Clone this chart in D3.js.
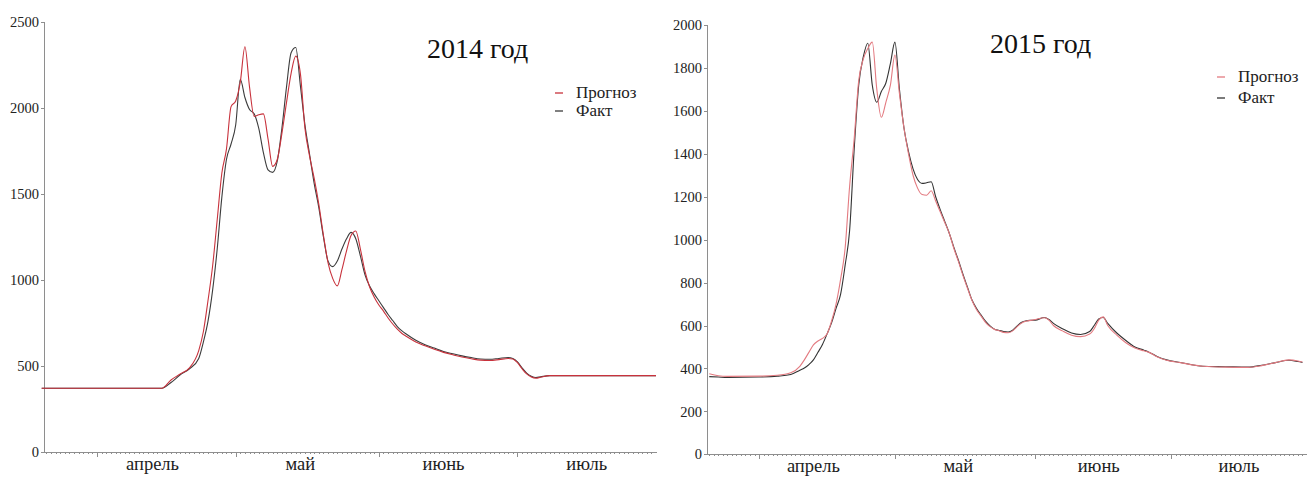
<!DOCTYPE html>
<html>
<head>
<meta charset="utf-8">
<script src="https://cdn.jsdelivr.net/npm/d3@7"></script>
<style>
  body { margin: 0; background: #fff; }
  svg { display: block; font-family: 'Liberation Serif', 'Times New Roman', serif; }
  .axis { font-family: 'Liberation Serif', 'Times New Roman', serif; }
  .axis path, .axis line { stroke: #8e8e8e; fill: none; shape-rendering: crispEdges; }
  .axis text { fill: #222; font-size: 14.5px; }
  .month { fill: #222; font-size: 18.5px; text-anchor: middle; }
  .title { fill: #111; font-size: 28px; }
  .legend text { fill: #222; font-size: 17px; }
  .series { fill: none; stroke-width: 1.1; }
</style>
</head>
<body>
<script>
// month labels on the x axis (placed near mid-month)
var monthNames = ['апрель', 'май', 'июнь', 'июль']
var monthLabelDays = ['04-13', '05-15', '06-15', '07-16']

// 2014 год
var days14 = ['03-20', '04-15', '04-17', '04-19', '04-21', '04-23', '04-24', '04-25', '04-26', '04-27',
  '04-28', '04-29', '04-30', '05-01', '05-02', '05-03', '05-04', '05-05', '05-06', '05-07',
  '05-08', '05-09', '05-10', '05-11', '05-12', '05-13', '05-14', '05-15', '05-16', '05-17',
  '05-18', '05-19', '05-20', '05-21', '05-22', '05-23', '05-24', '05-25', '05-26', '05-27',
  '05-28', '05-29', '05-30', '05-31', '06-01', '06-02', '06-03', '06-04', '06-05', '06-06',
  '06-07', '06-09', '06-11', '06-13', '06-15', '06-17', '06-19', '06-21', '06-23', '06-25',
  '06-27', '06-29', '06-30', '07-01', '07-02', '07-03', '07-04', '07-05', '07-06', '07-08', '07-31']
var fact14 = [372, 372, 405, 450, 485, 545, 640, 760, 940, 1180,
  1480, 1700, 1790, 1900, 2166, 2060, 1990, 1965, 1880, 1740,
  1640, 1625, 1690, 1880, 2120, 2320, 2350, 2130, 1900, 1730,
  1560, 1420, 1250, 1110, 1078, 1110, 1180, 1240, 1277, 1240,
  1140, 1030, 965, 920, 880, 840, 800, 765, 730, 705,
  685, 650, 625, 605, 585, 572, 560, 550, 542, 540,
  545, 550, 545, 525, 490, 460, 442, 434, 438, 445, 445]
var prognoz14 = [372, 372, 420, 455, 490, 590, 700, 880, 1080, 1350,
  1620, 1760, 2007, 2040, 2150, 2355, 2120, 1950, 1960, 1965,
  1820, 1660, 1700, 1850, 2030, 2200, 2300, 2200, 1880, 1720,
  1590, 1440, 1260, 1100, 1010, 966, 1060, 1170, 1260, 1285,
  1180, 1050, 960, 900, 855, 820, 780, 745, 715, 690,
  672, 640, 618, 598, 580, 566, 553, 543, 535, 533,
  538, 545, 542, 520, 485, 455, 437, 430, 436, 445, 445]

// 2015 год
var days15 = ['03-21', '03-23', '03-25', '04-01', '04-05', '04-08',
  '04-10', '04-11', '04-12', '04-13', '04-14', '04-15', '04-16', '04-17', '04-18', '04-19',
  '04-20', '04-21', '04-22', '04-23', '04-24', '04-25', '04-26', '04-27', '04-28', '04-29', '04-30',
  '05-01', '05-02', '05-03', '05-04', '05-05', '05-06', '05-07', '05-08', '05-09', '05-10',
  '05-11', '05-12', '05-13', '05-14', '05-15', '05-16', '05-17', '05-18', '05-19', '05-20',
  '05-21', '05-22', '05-23', '05-24', '05-25', '05-26', '05-27', '05-28', '05-29', '05-30', '05-31',
  '06-01', '06-03', '06-04', '06-05', '06-07', '06-09', '06-11', '06-13', '06-14', '06-15',
  '06-16', '06-17', '06-19', '06-21', '06-23', '06-25', '06-26', '06-28', '06-30',
  '07-03', '07-08', '07-13', '07-18', '07-21', '07-24', '07-27', '07-29', '07-30']
var fact15 = [362, 360, 358, 360, 364, 372,
  392, 402, 418, 440, 475, 512, 560, 612, 680, 745,
  880, 1044, 1420, 1720, 1850, 1915, 1720, 1640, 1690, 1730, 1820,
  1920, 1700, 1520, 1410, 1330, 1280, 1262, 1265, 1270, 1200,
  1140, 1085, 1030, 965, 905, 840, 780, 720, 680, 650,
  620, 598, 583, 577, 572, 570, 578, 598, 615, 622, 624,
  625, 637, 628, 610, 585, 565, 558, 572, 600, 630,
  637, 610, 565, 530, 500, 485, 477, 455, 440,
  428, 410, 408, 406, 415, 427, 438, 432, 428]
var prognoz15 = [375, 366, 363, 364, 368, 380,
  410, 440, 475, 510, 528, 540, 560, 620, 700, 815,
  960, 1250, 1470, 1740, 1840, 1890, 1920, 1700, 1570, 1640, 1720,
  1860, 1680, 1520, 1400, 1300, 1240, 1210, 1207, 1228, 1180,
  1130, 1080, 1030, 960, 900, 835, 775, 718, 675, 645,
  615, 595, 582, 576, 568, 566, 575, 595, 612, 620, 624,
  628, 636, 625, 600, 575, 555, 548, 560, 585, 625,
  640, 600, 555, 520, 495, 482, 476, 453, 438,
  427, 410, 406, 405, 413, 427, 440, 435, 430]

var parseDay = d3.utcParse('%Y-%m-%d')

var panels = [
  {
    year: 2014, title: '2014 год', days: days14, fact: fact14, prognoz: prognoz14,
    yMax: 2500, yStep: 500,
    x0: 44, x1: 656, yTop: 21.7, yBottom: 452.3,
    start: Date.UTC(2014, 2, 20, 12), end: Date.UTC(2014, 6, 31),
    titleX: 427, titleY: 58,
    legendX: 555, legendY: 98, legendGap: 18,
    progColor: '#c8323c', factColor: '#3c3c3c'
  },
  {
    year: 2015, title: '2015 год', days: days15, fact: fact15, prognoz: prognoz15,
    yMax: 2000, yStep: 200,
    x0: 707, x1: 1307, yTop: 25, yBottom: 454.3,
    start: Date.UTC(2015, 2, 20, 12), end: Date.UTC(2015, 6, 31),
    titleX: 990, titleY: 53,
    legendX: 1217, legendY: 82, legendGap: 21,
    progColor: '#e37a80', factColor: '#333333'
  }
]

var svg = d3.select('body').append('svg')
  .attr('width', 1307)
  .attr('height', 477)

panels.forEach(function (p) { drawPanel(p) })

function drawPanel (p) {
  var g = svg.append('g')

  var x = d3.scaleUtc()
    .domain([new Date(p.start), new Date(p.end)])
    .range([p.x0, p.x1])

  var y = d3.scaleLinear()
    .domain([0, p.yMax])
    .range([p.yBottom, p.yTop])

  // y axis
  g.append('g')
    .attr('class', 'axis')
    .attr('transform', 'translate(' + p.x0 + ',0)')
    .call(d3.axisLeft(y).tickValues(d3.range(0, p.yMax + 1, p.yStep)).tickSize(3).tickPadding(2).tickFormat(d3.format('d')))

  // x axis: daily minor ticks
  var dayTicks = d3.utcDay.range(x.domain()[0], x.domain()[1])
  g.append('g')
    .attr('class', 'axis')
    .attr('transform', 'translate(0,' + p.yBottom + ')')
    .call(d3.axisBottom(x).tickValues(dayTicks).tickSize(2).tickSizeOuter(0).tickFormat(''))

  // x axis: month boundaries
  var monthTicks = d3.utcMonth.range(x.domain()[0], x.domain()[1])
  g.append('g')
    .attr('class', 'axis')
    .attr('transform', 'translate(0,' + p.yBottom + ')')
    .call(d3.axisBottom(x).tickValues(monthTicks).tickSize(5).tickSizeOuter(0).tickFormat(''))
    .select('.domain').remove()

  g.selectAll('.month')
    .data(monthNames)
    .enter().append('text')
    .attr('class', 'month')
    .attr('x', function (d, i) { return x(parseDay(p.year + '-' + monthLabelDays[i])) })
    .attr('y', p.yBottom + 18)
    .text(function (d) { return d })

  var line = d3.line()
    .x(function (d) { return x(d.date) })
    .y(function (d) { return y(d.value) })
    .curve(d3.curveMonotoneX)

  function rows (values) {
    return p.days.map(function (day, i) {
      return { date: parseDay(p.year + '-' + day), value: values[i] }
    })
  }

  g.append('path')
    .attr('class', 'series')
    .attr('stroke', p.factColor)
    .attr('d', line(rows(p.fact)))

  g.append('path')
    .attr('class', 'series')
    .attr('stroke', p.progColor)
    .attr('d', line(rows(p.prognoz)))

  g.append('text')
    .attr('class', 'title')
    .attr('x', p.titleX)
    .attr('y', p.titleY)
    .text(p.title)

  // legend
  var items = [
    { name: 'Прогноз', color: p.progColor },
    { name: 'Факт', color: p.factColor }
  ]
  var lg = g.append('g').attr('class', 'legend')
  var it = lg.selectAll('g')
    .data(items)
    .enter().append('g')
    .attr('transform', function (d, i) { return 'translate(' + p.legendX + ',' + (p.legendY + i * p.legendGap) + ')' })
  it.append('line')
    .attr('x1', 0).attr('x2', 8)
    .attr('y1', -5).attr('y2', -5)
    .attr('stroke', function (d) { return d.color })
    .attr('stroke-width', 1.3)
  it.append('text')
    .attr('x', 21)
    .text(function (d) { return d.name })
}
</script>
</body>
</html>
